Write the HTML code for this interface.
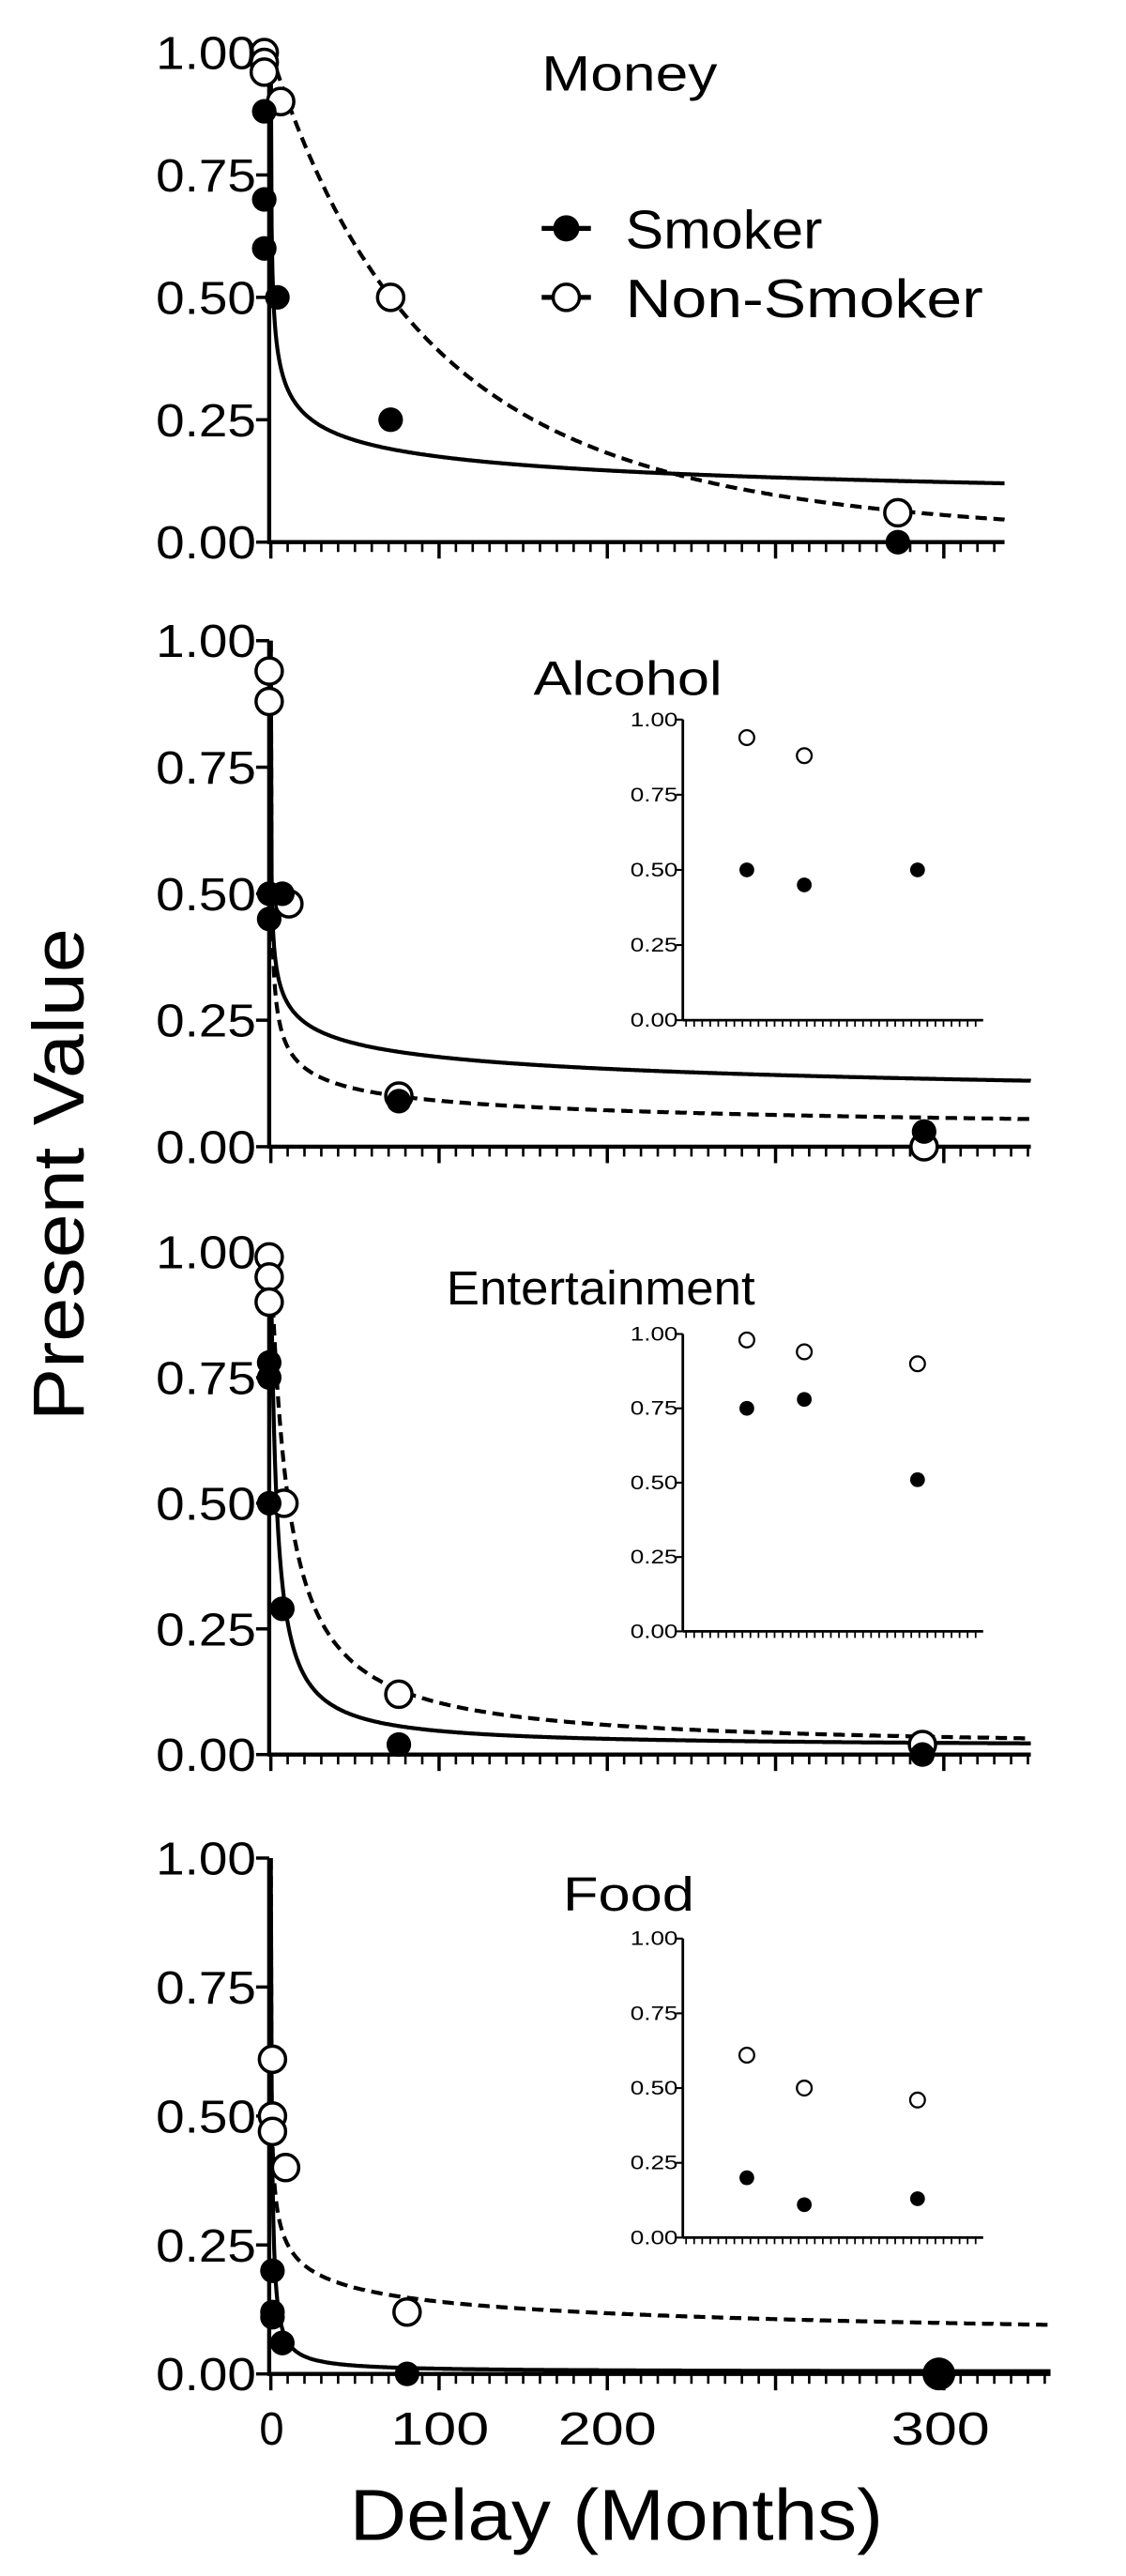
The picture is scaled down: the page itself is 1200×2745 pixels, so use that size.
<!DOCTYPE html>
<html><head><meta charset="utf-8"><style>
html,body{margin:0;padding:0;background:#fff;width:1200px;height:2745px;overflow:hidden}
svg{display:block}
text{font-family:"Liberation Sans",sans-serif;fill:#000}
</style></head><body>
<svg id="s" width="1200" height="2745" viewBox="0 0 686 1568" preserveAspectRatio="none" xmlns="http://www.w3.org/2000/svg">
<g id="g"></g>
<text x="330" y="55" font-size="30" textLength="107" lengthAdjust="spacingAndGlyphs">Money</text>
<text x="325" y="423" font-size="29" textLength="115" lengthAdjust="spacingAndGlyphs">Alcohol</text>
<text x="272" y="794" font-size="29" textLength="188" lengthAdjust="spacingAndGlyphs">Entertainment</text>
<text x="343" y="1163" font-size="29" textLength="80" lengthAdjust="spacingAndGlyphs">Food</text>
<line x1="330" y1="139" x2="360" y2="139" stroke="#000" stroke-width="3"/>
<circle cx="345" cy="139" r="8" fill="#000"/>
<text x="381" y="151" font-size="33" textLength="120" lengthAdjust="spacingAndGlyphs">Smoker</text>
<line x1="330" y1="181" x2="360" y2="181" stroke="#000" stroke-width="3"/>
<circle cx="345" cy="181" r="8" fill="#fff" stroke="#000" stroke-width="2"/>
<text x="381" y="193" font-size="33" textLength="218" lengthAdjust="spacingAndGlyphs">Non-Smoker</text>
<text x="0" y="0" font-size="44" textLength="300" lengthAdjust="spacingAndGlyphs" transform="translate(51,715) rotate(-90)" text-anchor="middle">Present Value</text>
<text x="213" y="1546" font-size="44" textLength="325" lengthAdjust="spacingAndGlyphs">Delay (Months)</text>
<text x="158" y="1488" font-size="28" textLength="15" lengthAdjust="spacingAndGlyphs">0</text>
<text x="238" y="1488" font-size="28" textLength="60" lengthAdjust="spacingAndGlyphs">100</text>
<text x="340" y="1488" font-size="28" textLength="60" lengthAdjust="spacingAndGlyphs">200</text>
<text x="543" y="1488" font-size="28" textLength="60" lengthAdjust="spacingAndGlyphs">300</text>
<g id="labels"></g>
</svg>
<script>
var NS="http://www.w3.org/2000/svg",G=document.getElementById('g'),L=document.getElementById('labels');
function el(t,a,p){var e=document.createElementNS(NS,t);for(var k in a)e.setAttribute(k,a[k]);(p||G).appendChild(e);return e;}
function txt(x,y,s,sz,len,fill){var e=el('text',{x:x-len,y:y,'font-size':sz,textLength:len,lengthAdjust:'spacingAndGlyphs',fill:fill||'#000'},L);e.textContent=s;}
var panels=[
 {y1:32,y0:330,xe:612,
  cs:function(d){return Math.pow(1+9.4*d,-0.254)},
  cd:function(d){return Math.pow(1+0.00259*d,-4)},
  f:[[161,.88],[161,.70],[161,.60],[169,.5],[238,.25],[547,0]],
  o:[[161,1],[161,.98],[161,.96],[171,.9],[238,.5],[547,.06]]},
 {y1:390,y0:698,xe:628,
  cs:function(d){return Math.pow(1+47*d,-0.204)},
  cd:function(d){return Math.pow(1+12*d,-0.337)},
  f:[[164,.5],[172,.5],[164,.45],[243,.09],[563,.03]],
  o:[[164,.94],[164,.88],[176,.48],[243,.1],[563,0]],
  ins:{y1:438,y0:621,f:[.5,.45,.5],o:[.94,.88,null]}},
 {y1:762,y0:1068,xe:628,
  cs:function(d){return .015+.985/(1+.29*d)},
  cd:function(d){return .01+.99/(1+.094*d)},
  f:[[164,.78],[164,.75],[164,.5],[172,.29],[243,.02],[562,0]],
  o:[[164,.99],[164,.95],[164,.9],[173,.5],[243,.12],[562,.02]],
  ins:{y1:812,y0:993,f:[.75,.78,.51],o:[.98,.94,.90]}},
 {y1:1131,y0:1445,xe:640,
  cs:function(d){return .004+.996/(1+1.57*d)},
  cd:function(d){return Math.pow(1+23*d,-0.253)},
  f:[[166,.2],[166,.12],[166,.11],[172,.06],[248,0],[572,0,10]],
  o:[[166,.61],[166,.5],[166,.47],[174,.4],[248,.12]],
  ins:{y1:1180,y0:1362,f:[.2,.11,.13],o:[.61,.5,.46]}}
];
panels.forEach(function(P,i){
 var Y=function(v){return P.y0-(P.y0-P.y1)*v};
 ['cs','cd'].forEach(function(c){
  var pts=[];for(var x=165;x<=P.xe;x+=0.5){var d=x-165;pts.push(x.toFixed(1)+','+Y(P[c](d)).toFixed(1));}
  var a={d:'M'+pts.join(' L'),fill:'none',stroke:'#000','stroke-width':2.4};
  if(c=='cd')a['stroke-dasharray']='7,4';
  el('path',a);
 });
 el('line',{x1:164,y1:P.y1,x2:164,y2:P.y0+1,stroke:'#000','stroke-width':2.5});
 el('line',{x1:163,y1:P.y0,x2:P.xe,y2:P.y0,stroke:'#000','stroke-width':2.5});
 for(var k=0;k<=4;k++){var yy=Y(k/4);el('line',{x1:156,y1:yy,x2:164,y2:yy,stroke:'#000','stroke-width':2});
  txt(156,yy+10,(k/4).toFixed(2),28,61);}
 for(var m=0;;m++){var x=165+m*10.25;if(x>P.xe)break;var major=(m%10==0);
  el('line',{x1:x,y1:P.y0,x2:x,y2:P.y0+(major?10:6),stroke:'#000','stroke-width':major?2:1.5});}
 P.o.forEach(function(p){el('circle',{cx:p[0],cy:Y(p[1]),r:8,fill:'#fff',stroke:'#000','stroke-width':2});});
 P.f.forEach(function(p){el('circle',{cx:p[0],cy:Y(p[1]),r:p[2]||7.5,fill:'#000'});});
 if(P.ins){var I=P.ins,IY=function(v){return I.y0-(I.y0-I.y1)*v};
  el('line',{x1:416,y1:I.y1,x2:416,y2:I.y0,stroke:'#000','stroke-width':1.6});
  el('line',{x1:416,y1:I.y0,x2:599,y2:I.y0,stroke:'#000','stroke-width':1.6});
  for(var k=0;k<=4;k++){var yy=IY(k/4);el('line',{x1:412,y1:yy,x2:416,y2:yy,stroke:'#000','stroke-width':1.2});
   txt(413,yy+4,(k/4).toFixed(2),12,29,'#333');}
  for(var x=418;x<=599;x+=4.9){el('line',{x1:x,y1:I.y0,x2:x,y2:I.y0+4,stroke:'#000','stroke-width':1});}
  var xs=[455,490,559];
  I.o.forEach(function(v,j){if(v!=null)el('circle',{cx:xs[j],cy:IY(v),r:4.5,fill:'#fff',stroke:'#000','stroke-width':1.3});});
  I.f.forEach(function(v,j){el('circle',{cx:xs[j],cy:IY(v),r:4.5,fill:'#000'});});
 }
});
</script>
</body></html>
